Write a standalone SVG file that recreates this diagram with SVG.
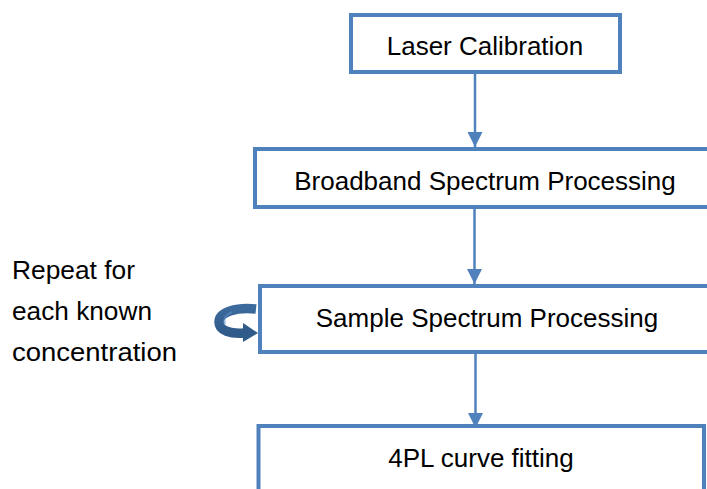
<svg xmlns="http://www.w3.org/2000/svg" width="707" height="489" viewBox="0 0 707 489">
<style>
.box{fill:#ffffff;stroke:#4F81BD;stroke-width:4}
.t{font-family:"Liberation Sans",Arial,sans-serif;font-size:26px;fill:#000000}
.c{text-anchor:middle}
.conn{stroke:#4F81BD;stroke-width:2.5;fill:none}
</style>
<defs>
<marker id="ah" markerUnits="userSpaceOnUse" markerWidth="16" markerHeight="16" viewBox="0 0 16 16" refX="15" refY="8" orient="auto">
<path d="M0,0.5 L15,8 L0,15.5 Z" fill="#4F81BD"/>
</marker>
<linearGradient id="cg" x1="0" y1="0" x2="0" y2="1">
<stop offset="0" stop-color="#3D6A9C"/>
<stop offset="1" stop-color="#2F5A8A"/>
</linearGradient>
</defs>
<g id="connectors">
<line class="conn" x1="475" y1="74" x2="475" y2="147" marker-end="url(#ah)"/>
<line class="conn" x1="474.5" y1="209" x2="474.5" y2="284" marker-end="url(#ah)"/>
<line class="conn" x1="475.5" y1="354" x2="475.5" y2="428" marker-end="url(#ah)"/>
</g>
<g id="node-laser">
<rect class="box" x="351" y="15" width="269" height="57"/>
<text class="t c" x="485" y="55">Laser Calibration</text>
</g>
<g id="node-broadband">
<rect class="box" x="255" y="149" width="470" height="58"/>
<text class="t c" x="485" y="190">Broadband Spectrum Processing</text>
</g>
<g id="node-sample">
<rect class="box" x="260" y="286" width="470" height="66"/>
<text class="t c" x="487" y="327">Sample Spectrum Processing</text>
</g>
<g id="node-4pl">
<rect class="box" x="258.5" y="426" width="445.5" height="80"/>
<text class="t c" x="481" y="467">4PL curve fitting</text>
</g>
<g id="repeat-loop">
<path d="M256,309 C236,307 219,312 219,322 C219,331 231,334 244,333" fill="none" stroke="url(#cg)" stroke-width="9.5" stroke-linecap="butt"/>
<path d="M232,312 C225,315 223,319 225,324" fill="none" stroke="#5B8CC4" stroke-width="2" opacity="0.6"/>
<polygon points="243,323 258,333 243,342" fill="#2F5A8A"/>
</g>
<g id="repeat-label">
<text class="t" x="12" y="279" textLength="123" lengthAdjust="spacingAndGlyphs">Repeat for</text>
<text class="t" x="12" y="320" textLength="140" lengthAdjust="spacingAndGlyphs">each known</text>
<text class="t" x="12" y="361" textLength="165" lengthAdjust="spacingAndGlyphs">concentration</text>
</g>
</svg>
